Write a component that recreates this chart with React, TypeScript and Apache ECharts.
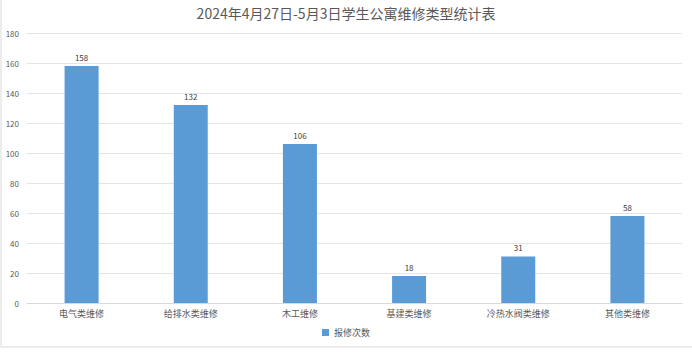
import React, { useEffect, useRef } from "react";
import * as echarts from "echarts";

const categories = ["电气类维修", "给排水类维修", "木工维修", "基建类维修", "冷热水阀类维修", "其他类维修"];
const repairCounts = [158, 132, 106, 18, 31, 58];
const seriesName = "报修次数";
const titleText = "2024年4月27日-5月3日学生公寓维修类型统计表";

export default function App() {
  const ref = useRef<HTMLDivElement>(null);
  useEffect(() => {
    if (!ref.current) return;
    const chart = echarts.init(ref.current, undefined, { renderer: "svg" });
    const font = "'Microsoft YaHei', 'Noto Sans CJK SC', sans-serif";
    chart.setOption({
      animation: false,
      backgroundColor: "#ffffff",
      title: {
        text: titleText,
        left: "center",
        top: 1,
        textStyle: { fontSize: 14, fontWeight: "normal", color: "#595959", fontFamily: font },
      },
      legend: {
        data: [seriesName],
        bottom: 10,
        left: "center",
        icon: "rect",
        itemWidth: 7,
        itemHeight: 7,
        itemGap: 4,
        textStyle: { fontSize: 9, color: "#595959", fontFamily: font },
      },
      grid: { left: 27, right: 10, top: 33, bottom: 49, containLabel: false },
      xAxis: {
        type: "category",
        data: categories,
        axisLine: { lineStyle: { color: "#d9d9d9" } },
        axisTick: { show: false },
        axisLabel: { fontSize: 9, color: "#595959", margin: 6, fontFamily: font },
      },
      yAxis: {
        type: "value",
        min: 0,
        max: 180,
        interval: 20,
        axisLine: { show: false },
        axisTick: { show: false },
        splitLine: { lineStyle: { color: "#e5e5e5" } },
        axisLabel: { fontSize: 8, color: "#595959", margin: 8, fontFamily: font },
      },
      series: [
        {
          name: seriesName,
          type: "bar",
          data: repairCounts,
          barWidth: 34,
          itemStyle: { color: "#5b9bd5" },
          label: { show: true, position: "top", fontSize: 8, color: "#404040", distance: 5, fontFamily: font },
        },
      ],
      graphic: [
        { type: "line", shape: { x1: 1, y1: 0, x2: 1, y2: 347 }, style: { stroke: "#d9d9d9", lineWidth: 1 } },
        { type: "line", shape: { x1: 1, y1: 347, x2: 692, y2: 347 }, style: { stroke: "#d9d9d9", lineWidth: 1 } },
      ],
    });
    return () => chart.dispose();
  }, []);
  return <div ref={ref} style={{ position: "fixed", left: 0, top: 0, width: 692, height: 352 }} />;
}
